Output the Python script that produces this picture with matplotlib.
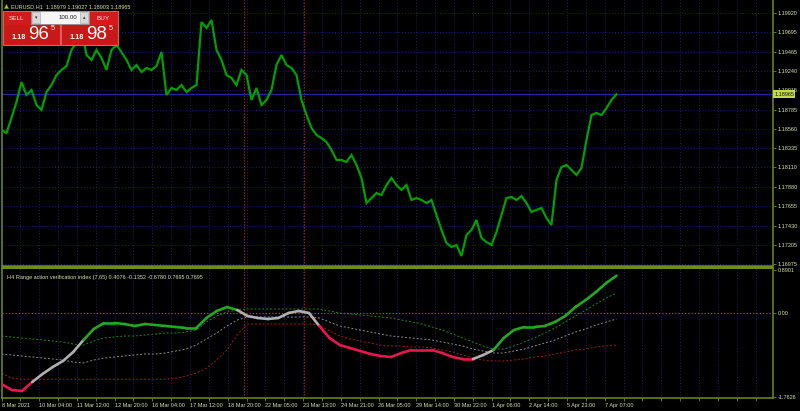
import numpy as np
import matplotlib
matplotlib.use("Agg")
import matplotlib.pyplot as plt
from matplotlib.collections import LineCollection
from matplotlib.patches import Rectangle
import matplotlib.transforms as mtransforms

plt.rcParams['font.family'] = ['Liberation Sans', 'DejaVu Sans']

# ---------------- data ----------------
symbol = "EURUSD,H1"
ohlc_last = [1.18979, 1.19027, 1.18903, 1.18965]
bid = 1.18965
last_bar = 522          # index of the last hourly bar shown

price_close = [
    1.18548, 1.18512, 1.18688, 1.18875, 1.19109, 1.18957, 1.19016, 1.18840, 1.18782, 1.18992,
    1.19074, 1.19191, 1.19250, 1.19296, 1.19484, 1.19577, 1.19741, 1.19425, 1.19367, 1.19484,
    1.19390, 1.19250, 1.19484, 1.19542, 1.19460, 1.19367, 1.19250, 1.19308, 1.19226, 1.19273,
    1.19250, 1.19296, 1.19460, 1.18957, 1.19039, 1.19016, 1.19074, 1.18992, 1.19039, 1.19074,
    1.19811, 1.19741, 1.19835, 1.19484, 1.19367, 1.19191, 1.19156, 1.19074, 1.19250, 1.19191,
    1.18899, 1.19039, 1.18840, 1.18899, 1.19016, 1.19308, 1.19425, 1.19308, 1.19273, 1.19191,
    1.18899, 1.18723, 1.18571, 1.18489, 1.18454, 1.18407, 1.18314, 1.18197, 1.18197, 1.18173,
    1.18255, 1.18138, 1.17986, 1.17693, 1.17752, 1.17810, 1.17787, 1.17904, 1.17986, 1.17904,
    1.17846, 1.17904, 1.17729, 1.17752, 1.17729, 1.17693, 1.17729, 1.17553, 1.17378, 1.17226,
    1.17179, 1.17202, 1.17073, 1.17319, 1.17378, 1.17495, 1.17284, 1.17237, 1.17202, 1.17354,
    1.17553, 1.17752, 1.17764, 1.17729, 1.17775, 1.17693, 1.17588, 1.17612, 1.17635, 1.17518,
    1.17436, 1.17963, 1.18115, 1.18138, 1.18080, 1.18021, 1.18103, 1.18431, 1.18723, 1.18747,
    1.18723, 1.18805, 1.18899, 1.18965,
]

price_ticks = [1.19920, 1.19695, 1.19465, 1.19240, 1.19015, 1.18785, 1.18560,
               1.18335, 1.18110, 1.17880, 1.17655, 1.17430, 1.17205, 1.16975]

time_labels = ["8 Mar 2021", "10 Mar 04:00", "11 Mar 12:00", "12 Mar 20:00", "16 Mar 04:00",
               "17 Mar 12:00", "18 Mar 20:00", "22 Mar 05:00", "23 Mar 13:00", "24 Mar 21:00",
               "26 Mar 05:00", "29 Mar 14:00", "30 Mar 22:00", "1 Apr 06:00", "2 Apr 14:00",
               "5 Apr 23:00", "7 Apr 07:00"]
bars_per_label = 32
bars_per_grid = 16

ind_name = "H4 Range action verification index (7,65)"
ind_main = [
    -1.4906, -1.6159, -1.6367, -1.4489, -1.2818, -1.1357, -1.0104, -0.8225, -0.5720, -0.3424,
    -0.2171, -0.2171, -0.2380, -0.2797, -0.2380, -0.2589, -0.2797, -0.3006, -0.3215, -0.3215,
    -0.1127, 0.0334, 0.1169, 0.0543, -0.0710, -0.1127, -0.1336, -0.1127, -0.0084, 0.0334,
    -0.0084, -0.2797, -0.5303, -0.6764, -0.7390, -0.8017, -0.8643, -0.9061, -0.9269, -0.8434,
    -0.7808, -0.7808, -0.7808, -0.8434, -0.9269, -0.9687, -0.9687, -0.8852, -0.7808, -0.5303,
    -0.3633, -0.3006, -0.3006, -0.2797, -0.1962, -0.0710, 0.1169, 0.2630, 0.4301, 0.6180,
    0.7695,
]
ind_upper = [
    -0.4885, -0.5094, -0.5303, -0.5511, -0.5720, -0.5929, -0.6138, -0.6555, -0.6764, -0.5929,
    -0.5303, -0.5094, -0.4885, -0.4885, -0.4676, -0.4468, -0.4259, -0.4259, -0.4050, -0.3633,
    -0.1962, -0.0710, 0.0125, 0.0543, 0.0752, 0.0752, 0.0752, 0.0752, 0.0752, 0.0752,
    0.0752, 0.0752, 0.0334, -0.0084, -0.0292, -0.0501, -0.0710, -0.0919, -0.1127, -0.1545,
    -0.1962, -0.2380, -0.3006, -0.3633, -0.4468, -0.5303, -0.6138, -0.6973, -0.7599, -0.7599,
    -0.6973, -0.6138, -0.5303, -0.4259, -0.3215, -0.1962, -0.0710, 0.0543, 0.1795, 0.3048,
    0.4076,
]
ind_middle = [
    -0.8643, -0.8852, -0.9061, -0.9269, -0.9478, -0.9687, -0.9896, -1.0313, -1.0522, -0.9896,
    -0.9478, -0.9269, -0.9061, -0.8852, -0.8643, -0.8643, -0.8434, -0.8017, -0.7599, -0.6764,
    -0.5511, -0.4259, -0.2797, -0.1545, -0.0919, -0.0919, -0.0919, -0.0919, -0.0919, -0.0919,
    -0.0919, -0.1127, -0.1962, -0.2797, -0.3215, -0.3633, -0.4050, -0.4468, -0.4885, -0.5094,
    -0.5303, -0.5511, -0.5720, -0.6138, -0.6555, -0.6973, -0.7599, -0.8017, -0.8434, -0.8434,
    -0.8017, -0.7599, -0.6973, -0.6347, -0.5720, -0.4885, -0.4050, -0.3424, -0.2589, -0.1962,
    -0.1352,
]
ind_lower = [
    -1.2651, -1.3695, -1.3904, -1.3904, -1.3904, -1.3904, -1.3904, -1.3904, -1.3904, -1.3904,
    -1.3904, -1.3904, -1.3904, -1.3904, -1.3904, -1.3904, -1.3904, -1.3695, -1.3278, -1.2651,
    -1.1566, -0.9896, -0.7808, -0.4676, -0.2380, -0.2380, -0.2380, -0.2380, -0.2380, -0.2380,
    -0.2380, -0.2589, -0.3841, -0.4885, -0.5511, -0.5929, -0.6347, -0.6764, -0.6973, -0.6973,
    -0.7182, -0.7182, -0.7390, -0.7808, -0.8225, -0.8852, -0.9478, -0.9896, -1.0104, -1.0104,
    -0.9896, -0.9687, -0.9269, -0.9061, -0.8643, -0.8225, -0.7808, -0.7599, -0.7182, -0.6973,
    -0.6780,
]
ind_scale_ticks = [0.8901, 0.0, -1.7626]
ind_scale_labels = ["0.8901", "0.00", "-1.7626"]
marker_bars = [206, 257]

sell_quote = ("1.18", "96", "5")
buy_quote = ("1.18", "98", "5")
lot_size = "100.00"

# ---------------- style ----------------
BG = "black"
FRAME = "#6e8c1e"
TXT = "#d2e2a8"
GRID = "#1c1c86"
PRICE_C = "#00a000"
BIDLINE = "#2424a8"

W, H = 800, 411
fig = plt.figure(figsize=(W / 100, H / 100), dpi=100, facecolor=BG)

def px_rect(x0, y0, x1, y1):
    return [x0 / W, 1 - y1 / H, (x1 - x0) / W, (y1 - y0) / H]

px_per_bar = 37.7 / bars_per_label
ax1 = fig.add_axes(px_rect(1.5, 0, 773, 266))
ax2 = fig.add_axes(px_rect(1.5, 268, 773, 398))
xmax = 771.5 / px_per_bar

for ax in (ax1, ax2):
    ax.set_facecolor(BG)
    ax.set_xlim(0, xmax)
    for s in ax.spines.values():
        s.set_color(FRAME)
        s.set_linewidth(1.1)
    for b in np.arange(0, xmax, bars_per_grid):
        ax.axvline(b, color=GRID, lw=0.7, ls=(0, (1, 2)), zorder=0)
    for b in marker_bars:
        ax.axvline(b, color="#b81818", lw=0.7, ls=(0, (1.5, 1.5)), zorder=1)
ax1.spines["top"].set_visible(False)

# ----- price pane -----
ax1.set_ylim(1.200686 - 0.000117 * 266, 1.200686)
for p in price_ticks:
    ax1.axhline(p, color=GRID, lw=0.7, ls=(0, (1, 2)), zorder=0)
ax1.axhline(bid, color=BIDLINE, lw=0.9, zorder=1)
x_price = np.linspace(0, last_bar, len(price_close))
ax1.plot(x_price, price_close, color=PRICE_C, lw=1.6, zorder=3, solid_joinstyle="miter")
ax1.yaxis.tick_right()
ax1.set_yticks(price_ticks, [f"{p:.5f}" for p in price_ticks])
ax1.set_xticks([])
ax1.tick_params(axis="y", length=2.5, width=0.6, color=FRAME, labelcolor=TXT,
                labelsize=4.0, pad=1)
trans1 = mtransforms.blended_transform_factory(ax1.transAxes, ax1.transData)
ax1.text(1.0015, bid, f"{bid:.5f}", transform=trans1, fontsize=4.0, color="#101010",
         va="center", ha="left", zorder=10, clip_on=False,
         bbox=dict(boxstyle="square,pad=0.25", fc="#c0dc48", ec="#c0dc48", lw=0))

# ----- indicator pane -----
def v_of(y):
    return (312.6 - y) / 47.9
ax2.set_ylim(v_of(398), v_of(268))
ax2.axhline(0, color="#9a34c8", lw=0.9, ls=(0, (1, 1.6)), zorder=1)
x_ind = np.linspace(0, last_bar, len(ind_main))
ax2.plot(x_ind, ind_upper, color="#1f8a1f", lw=0.7, ls=(0, (2, 2)), zorder=2)
ax2.plot(x_ind, ind_middle, color="#8c8c8c", lw=0.7, ls=(0, (2, 2)), zorder=2)
ax2.plot(x_ind, ind_lower, color="#a01c1c", lw=0.7, ls=(0, (2, 2)), zorder=2)

m = np.array(ind_main)
up = np.array(ind_upper)
lo = np.array(ind_lower)
pts = np.column_stack([x_ind, m])
segs = np.stack([pts[:-1], pts[1:]], axis=1)
mm = (m[:-1] + m[1:]) / 2
mu = (up[:-1] + up[1:]) / 2
ml = (lo[:-1] + lo[1:]) / 2
cols = np.where(mm > mu, "#23a823", np.where(mm < ml, "#e8164c", "#b0b0b0"))
lc = LineCollection(segs, colors=cols, linewidths=1.9, capstyle="round", joinstyle="round", zorder=4)
ax2.add_collection(lc)

ax2.yaxis.tick_right()
ax2.set_yticks(ind_scale_ticks, ind_scale_labels)
ax2.tick_params(axis="y", length=2.5, width=0.6, color=FRAME, labelcolor=TXT,
                labelsize=4.0, pad=1)
label_pos = np.arange(len(time_labels)) * bars_per_label
ax2.set_xticks(label_pos, time_labels)
ax2.set_xticks(np.arange(0, xmax, bars_per_grid), minor=True)
ax2.tick_params(axis="x", which="both", length=2, width=0.6, color=FRAME, labelcolor=TXT,
                labelsize=4.0, pad=1.5)
for t in ax2.get_xticklabels():
    t.set_ha("left")

# separator band between panes
fig.patches.append(Rectangle((1.5 / W, 1 - 268.5 / H), 771.5 / W, 3 / H, transform=fig.transFigure,
                             fc=FRAME, ec="none", zorder=5))

ax2.text(5 / 771, 1 - 9 / 130,
         f"{ind_name} " + " ".join(f"{v:.4f}" for v in [ind_upper[-1], ind_middle[-1], ind_lower[-1], ind_main[-1], ind_main[-1]]),
         transform=ax2.transAxes, fontsize=4.0, color=TXT, va="center", ha="left", zorder=6)

# ----- overlay (header + one-click trading panel) -----
ov = fig.add_axes([0, 0, 1, 1], facecolor="none")
ov.set_xlim(0, W)
ov.set_ylim(H, 0)
ov.axis("off")
ov.plot([6], [6.5], marker="^", ms=3.2, color="#c8c840", mec="#4a7a10", mew=0.4)
ov.text(11, 6.5, f"{symbol}  " + " ".join(f"{v:.5f}" for v in ohlc_last),
        fontsize=4.0, color=TXT, va="center", ha="left")

RED = "#d21c1c"
for x0, side, q in ((3, "SELL", sell_quote), (61, "BUY", buy_quote)):
    ov.add_patch(Rectangle((x0, 11), 57, 34, fc=RED, ec="#f07070", lw=0.6))
    ov.add_patch(Rectangle((x0 + 1, 25), 55, 19, fc="#c81818", ec="none"))
    tx = x0 + 13 if side == "SELL" else x0 + 42
    ov.text(tx, 18, side, fontsize=4.6, color="#ffe0e0", ha="center", va="center")
    ov.text(x0 + 16, 37.5, q[0], fontsize=5.2, color="white", ha="center", va="center",
            fontweight="bold")
    ov.text(x0 + 36, 34.5, q[1], fontsize=13.5, color="white", ha="center", va="center")
    ov.text(x0 + 50, 29, q[2], fontsize=5.2, color="white", ha="center", va="center")
ov.add_patch(Rectangle((31, 11), 58, 13, fc="#f6f6f6", ec="#909090", lw=0.6))
ov.add_patch(Rectangle((32, 12), 8, 11, fc="#d8d8d8", ec="#a0a0a0", lw=0.4))
ov.add_patch(Rectangle((80, 12), 8, 11, fc="#d8d8d8", ec="#a0a0a0", lw=0.4))
ov.text(36, 17.5, "\u25be", fontsize=3.5, color="#303030", ha="center", va="center")
ov.text(84, 17.5, "\u25b4", fontsize=3.5, color="#303030", ha="center", va="center")
ov.text(77, 17.5, lot_size, fontsize=4.4, color="#202020", ha="right", va="center")

fig.savefig("out.png", dpi=100, facecolor=BG)
